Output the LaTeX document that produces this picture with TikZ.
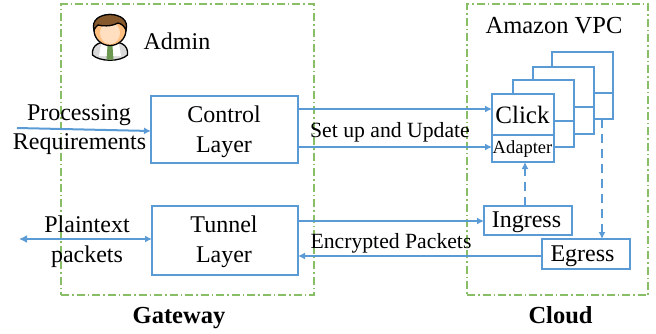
\documentclass[tikz,border=0pt]{standalone}
\usepackage{fontspec}
\setmainfont{Liberation Serif}
\usetikzlibrary{arrows.meta}

\definecolor{lineblue}{HTML}{5B9BD5}
\definecolor{zonegreen}{HTML}{88BE66}
\newcommand{\fsize}[1]{\fontsize{#1}{#1}\selectfont}
\tikzset{
  box/.style={draw=lineblue, line width=2.5pt, fill=white, inner sep=0pt, outer sep=0pt},
  zone/.style={draw=zonegreen, line width=1.1pt, dash pattern=on 8pt off 3pt on 1.5pt off 3pt, inner sep=0pt},
  conn/.style={draw=lineblue, line width=2pt, -{Latex[length=7pt,width=7pt]}},
  dashconn/.style={conn, dash pattern=on 9pt off 6pt},
  txt/.style={inner sep=0pt, anchor=base, font=\fsize{24}}
}

\begin{document}
\begin{tikzpicture}[x=1pt, y=-1pt]
      \useasboundingbox (0, 0) rectangle (656, 333);

      % dashed zones
      \node [zone, minimum width=253, minimum height=291] (gatewayzone) at (187.5, 149.5) {};
      \node [zone, minimum width=181, minimum height=291] (cloudzone) at (557.5, 149.5) {};
      \node [txt, font=\fsize{24.5}\bfseries] (gateway) at (179, 323) {Gateway};
      \node [txt, font=\fsize{24.5}\bfseries] (cloud) at (560.5, 323) {Cloud};

      % admin icon
      \draw [black, line width=1.3pt, fill=black!15] (92.5, 55) .. controls (91.5, 44) and (100, 42) .. (110, 41) .. controls (120, 42) and (128.5, 44) .. (127.5, 55) .. controls (120, 62) and (100, 62) .. (92.5, 55) -- cycle;
      \fill [white] (101, 44) -- (110, 47) -- (119, 44) -- (121, 56) -- (99, 56) -- cycle;
      \fill [zonegreen!80!black] (107.5, 46) -- (112.5, 46) -- (113.5, 59.5) -- (106.5, 59.5) -- cycle;
      \draw [black, line width=1.3pt, fill=orange!50] (110, 30) ellipse (16 and 15.5);
      \fill [orange!25] (110, 33) ellipse (10 and 11);
      \draw [black, line width=1.3pt, fill=brown!70!black] (94, 30) .. controls (91, 20) and (100, 14.5) .. (110, 14.5) .. controls (120, 14.5) and (129, 20) .. (126, 30) .. controls (124, 26) and (122, 24) .. (118, 23) .. controls (110, 27) and (102, 26) .. (98, 25) .. controls (96.5, 26) and (95, 28) .. (94, 30) -- cycle;
      \node [txt] (admin) at (177, 49) {Admin};
      \node [txt, font=\fsize{24.5}] (vpc) at (554, 33.5) {Amazon VPC};

      % layers
      \node [box, minimum width=147, minimum height=67] (control) at (224.5, 129.5) {};
      \node [box, minimum width=146, minimum height=69] (tunnel) at (225, 240.5) {};
      \node [txt] (controltxt) at (224, 122) {Control};
      \node [txt] (controllow) at (224, 152) {Layer};
      \node [txt] (tunneltxt) at (224, 232) {Tunnel};
      \node [txt] (tunnellow) at (224, 262) {Layer};

      % click stack
      \node [box, minimum width=61, minimum height=67] (stackc) at (582.5, 85.5) {};
      \draw [lineblue, line width=2.5pt] (594, 93) -- (613, 93);
      \node [box, minimum width=61, minimum height=67] (stackb) at (563.5, 100.5) {};
      \draw [lineblue, line width=2.5pt] (574, 107) -- (594, 107);
      \node [box, minimum width=61, minimum height=67] (stacka) at (543.5, 113.5) {};
      \draw [lineblue, line width=2.5pt] (554, 121) -- (574, 121);
      \node [box, minimum width=62, minimum height=41] (click) at (523, 114.5) {};
      \node [box, minimum width=62, minimum height=27] (adapter) at (523, 148.5) {};
      \node [txt, font=\fsize{25}] (clicktxt) at (522.5, 123) {Click};
      \node [txt, font=\fsize{18.5}] (adaptertxt) at (522.5, 153) {Adapter};

      \node [box, minimum width=88, minimum height=29] (ingress) at (528, 220.5) {};
      \node [box, minimum width=88, minimum height=30] (egress) at (586, 254) {};
      \node [txt] (ingresstxt) at (526.5, 227) {Ingress};
      \node [txt] (egresstxt) at (582.5, 261) {Egress};

      % outside ends
      \coordinate (reqin) at (17, 128);
      \coordinate (plainout) at (19, 239);

      \draw [conn] (reqin) -- ([yshift=-1.5]control.west);
      \draw [conn, {Latex[length=8pt,width=8pt]}-{Latex[length=7pt,width=7pt]}] (plainout) -- (tunnel.west |- plainout);
      \draw [conn] ([yshift=20.5]control.east) -- ([yshift=5.5]click.west);
      \draw [conn] ([yshift=-17.5]control.east) -- ([yshift=1.5]adapter.west);
      \draw [conn] ([yshift=19.5]tunnel.east) -- ([yshift=-0.5]ingress.west);
      \draw [conn] ([yshift=-2]egress.west) -- ([yshift=-15.5]tunnel.east);
      \draw [dashconn] ([xshift=-3]ingress.north) -- ([xshift=2]adapter.south);
      \draw [dashconn] ([xshift=19.5]stackc.south) -- ([xshift=16]egress.north);

      % text on top of the lines
      \node [txt] (process) at (79, 120) {Processing};
      \node [txt] (require) at (79.5, 149.5) {Requirements};
      \node [txt] (plain) at (87, 232) {Plaintext};
      \node [txt] (packets) at (87, 262) {packets};
      \node [txt, font=\fsize{21.7}] (setup) at (390, 137) {Set up and Update};
      \node [txt, font=\fsize{21.7}] (encrypted) at (391, 248) {Encrypted Packets};

    \end{tikzpicture}
\end{document}
